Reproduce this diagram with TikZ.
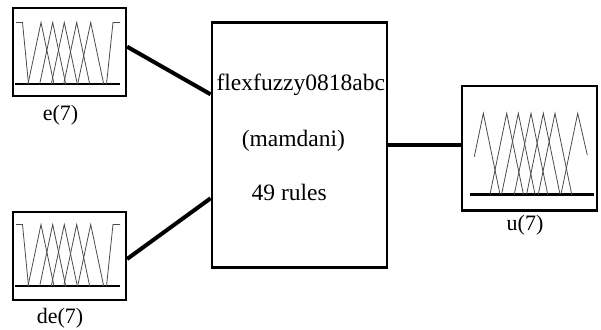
\documentclass[tikz,border=0pt]{standalone}
\usepackage{fontspec}
\setmainfont{Liberation Serif}
\begin{document}
\begin{tikzpicture}[x=1pt,y=-1pt,
  box/.style={draw,line width=2.2pt,inner sep=0pt,fill=white},
  wire/.style={line width=4pt},
  base/.style={line width=2.4pt},
  mf/.style={line width=0.8pt,draw=black!70,line join=miter},
  lab/.style={font=\fontsize{22}{26}\selectfont,anchor=base,inner sep=0pt},
  big/.style={font=\fontsize{23.5}{28}\selectfont,anchor=base,inner sep=0pt}]
\useasboundingbox (0,0) rectangle (601,329);
% boxes
\node[box,minimum width=113pt,minimum height=88pt] (e) at (69.5,52) {};
\node[box,minimum width=113pt,minimum height=88pt] (de) at (69.5,256) {};
\node[box,minimum width=175.6pt,minimum height=245pt] (mid) at (299.5,145) {};
\node[box,minimum width=135.3pt,minimum height=124.5pt] (u) at (529.6,148.25) {};
% connectors
\draw[wire] ([yshift=5.3pt]e.east) -- ([yshift=50.7pt]mid.west);
\draw[wire] ([yshift=-3pt]de.east) -- ([yshift=-53.3pt]mid.west);
\draw[wire] (mid.east) -- (mid.east -| u.west);
% membership functions e and de
\foreach \dy in {0,202}{
\begin{scope}[yshift=-\dy pt]
  \draw[base] (15,84) -- (120,84);
  \draw[mf] (16,22.5) -- (22.5,22.5) -- (28.5,84);
  \foreach \p in {41,52.7,64.3,76.7,90.7}{
    \draw[mf] (\p-13,84) -- (\p,22.5) -- (\p+13,84);
  }
  \draw[mf] (106.5,84) -- (113,22.5) -- (120,22.5);
\end{scope}
}
% membership functions u
\draw[base] (470,194.3) -- (594,194.3);
\draw[mf] (474.3,156.7) -- (483.3,113.3) -- (500,194.3);
\foreach \p in {506.7,518.3,531,543.3,555}{
  \draw[mf] (\p-16.7,194.3) -- (\p,113.3) -- (\p+16.7,194.3);
}
\draw[mf] (561,194.3) -- (577.7,113.3) -- (587.3,155);
% texts
\node[big] (t1) at (300.8,90) {flexfuzzy0818abc};
\node[big] (t2) at (293.3,146) {(mamdani)};
\node[big] (t3) at (289.2,200.7) {49 rules};
\node[lab] (le) at (60.5,120.5) {e(7)};
\node[lab] (lde) at (60,323.5) {de(7)};
\node[lab] (lu) at (525,230) {u(7)};
\end{tikzpicture}
\end{document}
